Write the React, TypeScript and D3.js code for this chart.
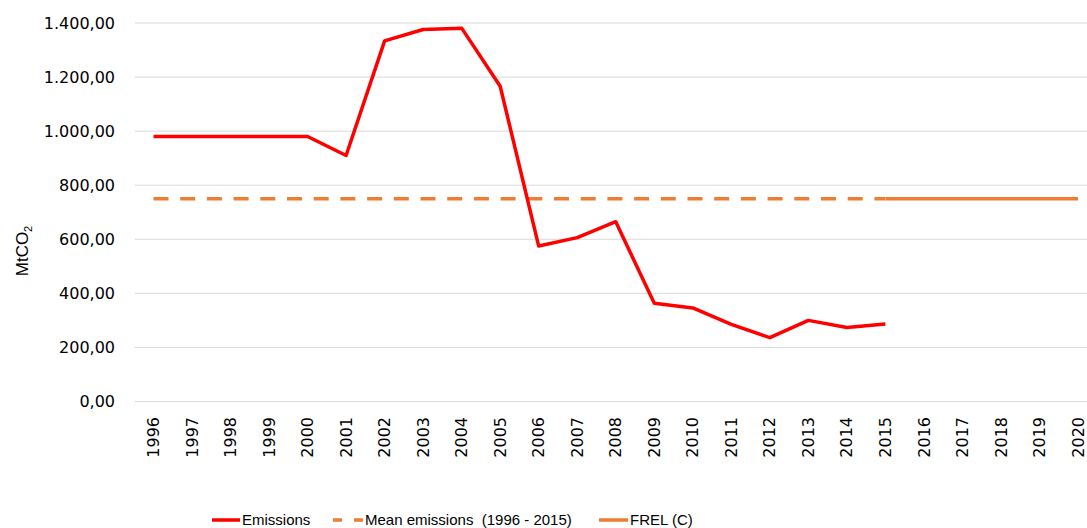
import React from "react";
import * as d3 from "d3";

const years = ["1996","1997","1998","1999","2000","2001","2002","2003","2004","2005","2006","2007","2008","2009","2010","2011","2012","2013","2014","2015","2016","2017","2018","2019","2020"];
const emissionYears = years.slice(0, 20);
const emissions = [980, 980, 980, 980, 980, 910, 1334, 1376, 1381, 1166, 575, 606, 665, 363, 346, 285, 236, 300, 274, 287];
const meanYears = years.slice(0, 20);
const meanValue = 750;
const frelYears = years.slice(19);
const frelValue = 750;
const yTicks = [0, 200, 400, 600, 800, 1000, 1200, 1400];

const W = 1087, H = 528;
const fmt = (v: number) => {
  const s = v.toFixed(2).replace(".", ",");
  const [i, d] = s.split(",");
  return i.replace(/\B(?=(\d{3})+(?!\d))/g, ".") + "," + d;
};

export default function App() {
  const x = d3.scalePoint<string>().domain(years).range([153.5, 1078]);
  const y = d3.scaleLinear().domain([0, 1400]).range([401.5, 23]);
  const line = d3.line<[string, number]>().x(d => x(d[0])!).y(d => y(d[1]));
  const emPath = line(emissionYears.map((yr, i) => [yr, emissions[i]]))!;
  const meanPath = line(meanYears.map(yr => [yr, meanValue]))!;
  const frelPath = line(frelYears.map(yr => [yr, frelValue]))!;
  const red = "#FF0000", orange = "#ED7D31";
  const tickFont = "'DejaVu Sans', sans-serif";
  const legFont = "'Liberation Sans', Arial, sans-serif";
  return (
    <svg width={W} height={H} style={{ position: "absolute", left: 0, top: 0, background: "#fff" }}>
      <rect width={W} height={H} fill="#fff" />
      {yTicks.map(t => (
        <g key={t}>
          <line x1={135} x2={1087} y1={y(t)} y2={y(t)} stroke="#d9d9d9" strokeWidth={1} />
          <text x={115} y={y(t)} dy="0.35em" textAnchor="end" fontFamily={tickFont} fontSize={16} fill="#000">{fmt(t)}</text>
        </g>
      ))}
      {years.map(yr => (
        <text key={yr} transform={`translate(${x(yr)},417) rotate(-90)`} dy="0.35em" textAnchor="end" fontFamily={tickFont} fontSize={16} fill="#000">{yr}</text>
      ))}
      <text transform="translate(22,251) rotate(-90)" dy="0.35em" textAnchor="middle" fontFamily={legFont} fontSize={17} fill="#000">
        MtCO<tspan fontSize={11} dy="4">2</tspan>
      </text>
      <path d={meanPath} fill="none" stroke={orange} strokeWidth={3.5} strokeDasharray="15 11.7" />
      <path d={frelPath} fill="none" stroke={orange} strokeWidth={3.5} />
      <path d={emPath} fill="none" stroke={red} strokeWidth={3.5} strokeLinejoin="round" />
      <g fontFamily={legFont} fontSize={15} fill="#000">
        <line x1={212} x2={240} y1={520} y2={520} stroke={red} strokeWidth={3.5} />
        <text x={242} y={520} dy="0.35em">Emissions</text>
        <line x1={333} x2={363} y1={520} y2={520} stroke={orange} strokeWidth={3.5} strokeDasharray="9 12" />
        <text x={365} y={520} dy="0.35em" xmlSpace="preserve">Mean emissions  (1996 - 2015)</text>
        <line x1={599} x2={628} y1={520} y2={520} stroke={orange} strokeWidth={3.5} />
        <text x={630} y={520} dy="0.35em">FREL (C)</text>
      </g>
    </svg>
  );
}
